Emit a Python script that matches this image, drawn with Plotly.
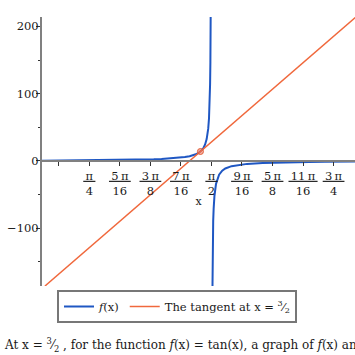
import math
import plotly.graph_objects as go

# ---- data ----
# f(x) = tan(x): branch left of the asymptote
f_left_x = [0.48, 0.6, 0.7, 0.8, 0.9, 1.0, 1.1, 1.2, 1.25, 1.3, 1.35, 1.4, 1.43, 1.45,
            1.47, 1.49, 1.5, 1.51, 1.52, 1.53, 1.54, 1.545, 1.55, 1.555, 1.558, 1.56,
            1.562, 1.564, 1.565, 1.566, 1.567]
f_left_y = [0.52, 0.68, 0.84, 1.03, 1.26, 1.56, 1.96, 2.57, 3.01, 3.60, 4.46, 5.80, 7.06, 8.24,
            9.89, 12.35, 14.10, 16.43, 19.67, 24.50, 32.46, 38.76, 48.08, 63.30, 78.15, 92.62,
            113.68, 147.14, 172.53, 208.51, 263.44]
# branch right of the asymptote
f_right_x = [1.575, 1.576, 1.577, 1.578, 1.58, 1.582, 1.585, 1.59, 1.6, 1.61, 1.62, 1.64,
             1.66, 1.7, 1.75, 1.8, 1.9, 2.0, 2.1, 2.2, 2.3, 2.4, 2.5]
f_right_y = [-237.87, -192.16, -161.19, -138.81, -108.65, -89.25, -70.40, -52.07, -34.23,
             -25.49, -20.31, -14.43, -11.18, -7.70, -5.52, -4.29, -2.93, -2.19, -1.71,
             -1.37, -1.12, -0.92, -0.75]
# tangent line at x = 3/2
tangent_x = [0.5, 2.5]
tangent_y = [-185.75, 213.95]
# point of tangency
point_x = [1.5]
point_y = [14.10]

pi = math.pi
x_tick_vals = [3 * pi / 16, pi / 4, 5 * pi / 16, 3 * pi / 8, 7 * pi / 16, pi / 2,
               9 * pi / 16, 5 * pi / 8, 11 * pi / 16, 3 * pi / 4]
x_tick_num = ["", "π", "5\u2009π", "3\u2009π", "7\u2009π", "π", "9\u2009π", "5\u2009π", "11\u2009π", "3\u2009π"]
x_tick_den = ["", "4", "16", "8", "16", "2", "16", "8", "16", "4"]
y_tick_vals = [-100, 0, 100, 200]
y_minor_vals = [-150, -50, 50, 150]

BLUE = "#1f57c3"
ORANGE = "#f0683c"
FONT = "DejaVu Serif"


def frac(num, den):
    if not num:
        return ""
    return ("<span style='text-decoration:underline;text-decoration-color:#b0b0b0'>"
            "\u2009" + num + "\u2009</span><br>" + den)


x_tick_text = [frac(n, d) for n, d in zip(x_tick_num, x_tick_den)]

f_x = f_left_x + [None] + f_right_x
f_y = f_left_y + [None] + f_right_y

y_min, y_max = -185.75, 213.95

fig = go.Figure()
fig.add_trace(go.Scatter(x=f_x, y=f_y, mode="lines", name="<i>f</i>(x)",
                         line=dict(color=BLUE, width=2)))
fig.add_trace(go.Scatter(x=tangent_x, y=tangent_y, mode="lines",
                         name="The tangent at x = <sup>3</sup>\u2044<sub>2</sub>",
                         line=dict(color=ORANGE, width=1.5)))
fig.add_trace(go.Scatter(x=point_x, y=point_y, mode="markers", showlegend=False,
                         marker=dict(size=6, color="rgba(240,110,80,0.55)",
                                     line=dict(color="#e0603c", width=1))))

fig.update_layout(
    width=355, height=355,
    margin=dict(l=42, r=0, t=17, b=69, autoexpand=False),
    paper_bgcolor="white", plot_bgcolor="white",
    font=dict(family=FONT, size=11.5, color="#1a1a1a"),
    xaxis=dict(range=[0.481, 2.494], anchor="free", position=-y_min / (y_max - y_min),
               showline=True, linecolor="#808080", linewidth=2,
               showgrid=False, zeroline=False,
               ticks="outside", ticklen=4, tickwidth=1, tickcolor="#333",
               tickvals=x_tick_vals, ticktext=x_tick_text,
               title=dict(text="x", font=dict(size=11), standoff=0), automargin=False),
    yaxis=dict(range=[y_min, y_max], showline=True, linecolor="#808080", linewidth=2,
               showgrid=False, zeroline=False,
               ticks="outside", ticklen=4, tickwidth=1, tickcolor="#333",
               tickvals=y_tick_vals, ticklabelstandoff=-5,
               minor=dict(tickvals=y_minor_vals, ticks="outside", ticklen=2,
                          tickcolor="#333", tickwidth=1, showgrid=False),
               automargin=False),
    showlegend=True,
    legend=dict(orientation="h", xref="container", yref="container",
                x=57 / 355, xanchor="left", y=1 - 290 / 355, yanchor="top",
                bordercolor="#777", borderwidth=2, bgcolor="white",
                font=dict(family=FONT, size=11.5)),
    annotations=[dict(
        text="At x = <sup>3</sup>\u2044<sub>2</sub> , for the function <i>f</i>(x) = tan(x), "
             "a graph of <i>f</i>(x) and its tangent line is shown.",
        xref="paper", yref="paper", x=-40 / 313, y=(286 - 345) / 269,
        xanchor="left", yanchor="middle", showarrow=False, align="left",
        font=dict(family=FONT, size=12, color="#1a1a1a"))],
)

fig.write_html("out.html", config={"displayModeBar": False},
               post_script="document.body.style.margin='0px';")
